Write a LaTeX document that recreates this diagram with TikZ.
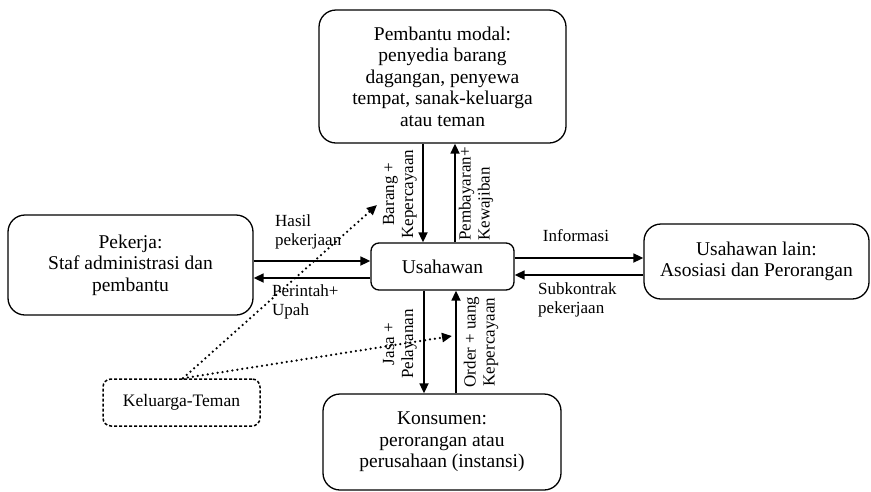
\documentclass[tikz,border=0pt]{standalone}
\usepackage{fontspec}
\setmainfont{Liberation Serif}
\usetikzlibrary{arrows.meta}
\begin{document}
\begin{tikzpicture}[x=1pt,y=-1pt,
 box/.style={draw, line width=1.3pt, rounded corners=17pt, align=center, font=\fontsize{19.5}{21.5}\selectfont, inner sep=0pt},
 smallbox/.style={box, rounded corners=8pt},
 dbox/.style={draw, line width=1.5pt, rounded corners=8pt, dash pattern=on 3pt off 2pt, font=\fontsize{17.5}{19}\selectfont, inner sep=0pt},
 lab/.style={font=\fontsize{17}{19}\selectfont, inner sep=0pt},
 arr/.style={line width=1.7pt, -{Triangle[length=10pt,width=9pt]}},
 dotarr/.style={line width=2.5pt, line cap=round, dash pattern=on 0pt off 5pt, -{Triangle[length=10pt,width=9pt]}}]
\useasboundingbox (0,0) rectangle (871,491);

\node[box, minimum width=247pt, minimum height=133pt] (modal) at (442.5,76.5)
  {Pembantu modal:\\penyedia barang\\dagangan, penyewa\\tempat, sanak-keluarga\\atau teman};
\node[box, minimum width=245pt, minimum height=100pt] (pek) at (130.5,265)
  {Pekerja:\\Staf administrasi dan\\pembantu};
\node[smallbox, minimum width=143pt, minimum height=47pt] (usa) at (442.5,266.5) {Usahawan};
\node[box, minimum width=225pt, minimum height=75pt] (lain) at (756.5,261.5)
  {Usahawan lain:\\Asosiasi dan Perorangan};
\node[box, minimum width=238pt, minimum height=96pt] (kons) at (442,442)
  {Konsumen:\\perorangan atau\\perusahaan (instansi)};
\node[dbox, minimum width=157pt, minimum height=47pt] (kel) at (181.5,402.5) {Keluarga-Teman};

% vertical arrows top
\draw[arr] ([xshift=-19.5pt]modal.south) -- ([xshift=-19.5pt]usa.north);
\draw[arr] ([xshift=12.5pt]usa.north) -- ([xshift=12.5pt]modal.south);
% vertical arrows bottom
\draw[arr] ([xshift=-18.5pt]usa.south) -- ([xshift=-18pt]kons.north);
\draw[arr] ([xshift=14pt]kons.north) -- ([xshift=13.5pt]usa.south);

% horizontal arrows
\coordinate (yl1) at (0,261);
\coordinate (yl2) at (0,278);
\coordinate (yr1) at (0,258);
\coordinate (yr2) at (0,275);
\draw[arr] (pek.east |- yl1) -- (usa.west |- yl1);
\draw[arr] (usa.west |- yl2) -- (pek.east |- yl2);
\draw[arr] (usa.east |- yr1) -- (lain.west |- yr1);
\draw[arr] (lain.west |- yr2) -- (usa.east |- yr2);

% dotted arrows
\coordinate (t1) at (377,205);
\coordinate (t2) at (452,336);
\draw[dotarr] ([xshift=1.5pt]kel.north) -- (t1);
\draw[dotarr] ([xshift=1.5pt]kel.north) -- (t2);

% labels
\node[lab, align=left, anchor=west] (l1) at (275,232) {Hasil\\pekerjaan};
\node[lab, align=left, anchor=west] (l2) at (272,301.5) {Perintah+\\Upah};
\node[lab, anchor=center] (l3) at (576,236) {Informasi};
\node[lab, align=left, anchor=west] (l4) at (538,300) {Subkontrak\\pekerjaan};
\node[lab, align=center, rotate=90] (l5) at (400,194) {Barang +\\Kepercayaan};
\node[lab, align=left, rotate=90] (l6) at (476,194) {Pembayaran+\\Kewajiban};
\node[lab, align=center, rotate=90] (l7) at (400,344) {Jasa +\\Pelayanan};
\node[lab, align=center, rotate=90] (l8) at (481,342) {Order + uang\\Kepercayaan};
\end{tikzpicture}
\end{document}
